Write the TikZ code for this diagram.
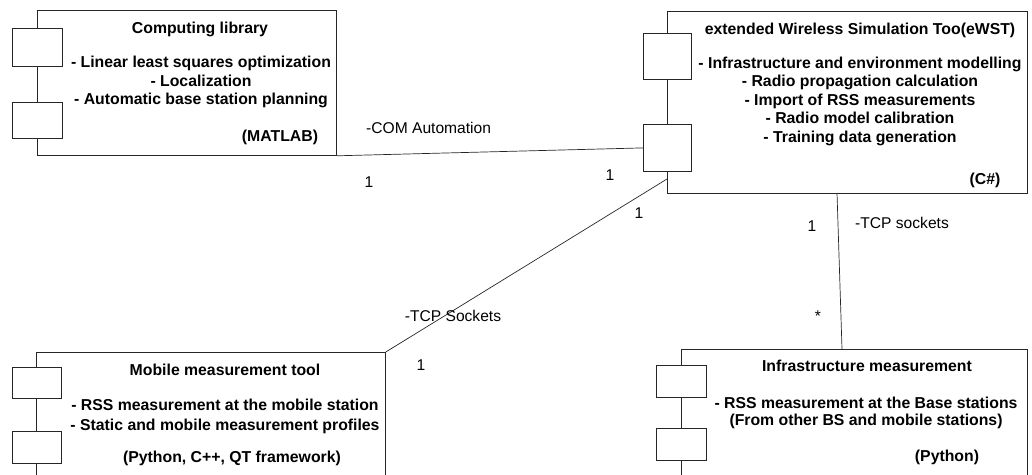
\documentclass[tikz,border=0pt]{standalone}
\usepackage{fontspec}
\setmainfont{Liberation Sans}
\usetikzlibrary{calc}
\begin{document}
\begin{tikzpicture}[x=1pt,y=-1pt,
  frame/.style={draw=black!85,line width=0.8pt,inner sep=0pt,anchor=north west},
  comp/.style={draw=black!85,line width=0.8pt,fill=white,inner sep=0pt,anchor=north west},
  conn/.style={draw=black!85,line width=0.7pt},
  btext/.style={font=\fontsize{15.8}{18.5}\selectfont\bfseries,align=center,inner sep=0pt},
  ltext/.style={font=\fontsize{15.6}{18}\selectfont,inner sep=0pt}]
\useasboundingbox (0,0) rectangle (1032,474);
% frames
\node[frame,minimum width=299pt,minimum height=145pt] (cl) at (37,10) {};
\node[frame,minimum width=360pt,minimum height=182pt] (ew) at (667,11) {};
\node[frame,minimum width=349pt,minimum height=140pt] (mm) at (36,352) {};
\node[frame,minimum width=346pt,minimum height=140pt] (im) at (681,349) {};
% connector end points
\coordinate (ewA) at (667,179);
\coordinate (ewB) at (837,193);
\coordinate (imT) at (842,349);
% component squares
\node[comp,minimum width=50pt,minimum height=38pt] (cls1) at (12,28) {};
\node[comp,minimum width=50pt,minimum height=36pt] (cls2) at (12,102) {};
\node[comp,minimum width=48pt,minimum height=46pt] (ews1) at (643,33) {};
\node[comp,minimum width=48pt,minimum height=47pt] (ews2) at (643,124) {};
\node[comp,minimum width=49pt,minimum height=31pt] (mms1) at (12,367) {};
\node[comp,minimum width=49pt,minimum height=32pt] (mms2) at (12,431) {};
\node[comp,minimum width=50pt,minimum height=32pt] (ims1) at (656,365) {};
\node[comp,minimum width=50pt,minimum height=32pt] (ims2) at (656,428) {};
% connectors
\draw[conn] (cl.south east) -- (ews2.west);
\draw[conn] (mm.north east) -- (ewA);
\draw[conn] (ewB) -- (imT);
% texts
\node[btext] (clt) at (200,29) {Computing library};
\node[btext] (clb) at (201,82) {- Linear least squares optimization\\- Localization\\- Automatic base station planning};
\node[btext] (cll) at (280,137) {(MATLAB)};
\node[btext] (ewt) at (860,30) {extended Wireless Simulation Too(eWST)};
\node[btext] (ewb) at (860,101) {- Infrastructure and environment modelling\\- Radio propagation calculation\\- Import of RSS measurements\\- Radio model calibration\\- Training data generation};
\node[btext] (ewl) at (985,180) {(C\#)};
\node[btext] (mmt) at (225,370) {Mobile measurement tool};
\node[btext,font=\fontsize{15.8}{20}\selectfont\bfseries] (mmb) at (225,416) {- RSS measurement at the mobile station\\- Static and mobile measurement profiles};
\node[btext] (mml) at (232,458) {(Python, C++, QT framework)};
\node[btext] (imt) at (867,366) {Infrastructure measurement};
\node[btext,font=\fontsize{15.8}{17}\selectfont\bfseries] (imb) at (866,412.5) {- RSS measurement at the Base stations\\(From other BS and mobile stations)};
\node[btext] (iml) at (947,457) {(Python)};
% connector labels
\node[ltext,anchor=west] (l1) at (366,128) {-COM Automation};
\node[ltext] (m1a) at (369,182) {1};
\node[ltext] (m1b) at (610,175) {1};
\node[ltext] (l2) at (453,316) {-TCP Sockets};
\node[ltext] (m2a) at (639,213) {1};
\node[ltext] (m2b) at (421,365) {1};
\node[ltext,anchor=west] (l3) at (855,223) {-TCP sockets};
\node[ltext] (m3a) at (812,226) {1};
\node[ltext] (m3b) at (818,316) {*};
\end{tikzpicture}
\end{document}
